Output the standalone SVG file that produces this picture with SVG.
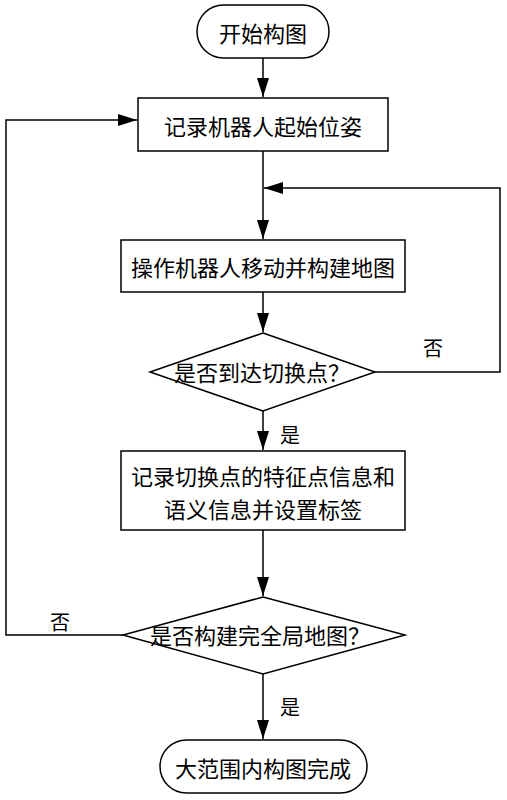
<svg xmlns="http://www.w3.org/2000/svg" width="507" height="800" viewBox="0 0 507 800">
<style>
.shape{fill:#fff;stroke:#000;stroke-width:1.5}
.t{font-family:"Noto Sans CJK SC","Noto Sans CJK JP",sans-serif;font-size:22px;fill:#000;text-anchor:middle;dominant-baseline:central}
.lbl{font-family:"Noto Sans CJK SC","Noto Sans CJK JP",sans-serif;font-size:20px;fill:#000;text-anchor:middle;dominant-baseline:central}
.c{fill:none;stroke:#000;stroke-width:1.5}
</style>
<defs>
<marker id="arr" markerUnits="userSpaceOnUse" markerWidth="20" markerHeight="12" refX="19" refY="6" orient="auto">
<path d="M0,0 L19,6 L0,12 Z" fill="#000"/>
</marker>
</defs>
<rect width="507" height="800" fill="#fff"/>
<g id="connectors">
<path class="c" d="M263,58 V97" marker-end="url(#arr)"/>
<path class="c" d="M263,151 V239" marker-end="url(#arr)"/>
<path class="c" d="M375,372 H500 V188 H264" marker-end="url(#arr)"/>
<path class="c" d="M263,292 V332" marker-end="url(#arr)"/>
<path class="c" d="M263,411 V450" marker-end="url(#arr)"/>
<path class="c" d="M263,530 V596" marker-end="url(#arr)"/>
<path class="c" d="M123,635 H6 V120 H137" marker-end="url(#arr)"/>
<path class="c" d="M263,674 V739" marker-end="url(#arr)"/>
<text class="lbl" x="433" y="347">否</text>
<text class="lbl" x="290" y="434">是</text>
<text class="lbl" x="60" y="621">否</text>
<text class="lbl" x="290" y="706">是</text>
</g>
<g id="start">
<rect class="shape" x="197" y="5" width="132" height="53" rx="26.5"/>
<text class="t" x="263" y="32">开始构图</text>
</g>
<g id="record-pose">
<rect class="shape" x="138" y="98" width="250" height="53"/>
<text class="t" x="263" y="125">记录机器人起始位姿</text>
</g>
<g id="build-map">
<rect class="shape" x="121" y="240" width="284" height="52"/>
<text class="t" x="263" y="266">操作机器人移动并构建地图</text>
</g>
<g id="switch-point">
<polygon class="shape" points="263,333 375,372 263,411 150,372"/>
<text class="t" x="262" y="371">是否到达切换点？</text>
</g>
<g id="record-features">
<rect class="shape" x="121" y="451" width="284" height="79"/>
<text class="t" x="263" y="475">记录切换点的特征点信息和</text>
<text class="t" x="263" y="508">语义信息并设置标签</text>
</g>
<g id="global-map">
<polygon class="shape" points="263,597 405,635 263,674 123,635"/>
<text class="t" x="260" y="634">是否构建完全局地图？</text>
</g>
<g id="end">
<rect class="shape" x="160" y="740" width="207" height="53" rx="26.5"/>
<text class="t" x="263" y="767">大范围内构图完成</text>
</g>
</svg>
